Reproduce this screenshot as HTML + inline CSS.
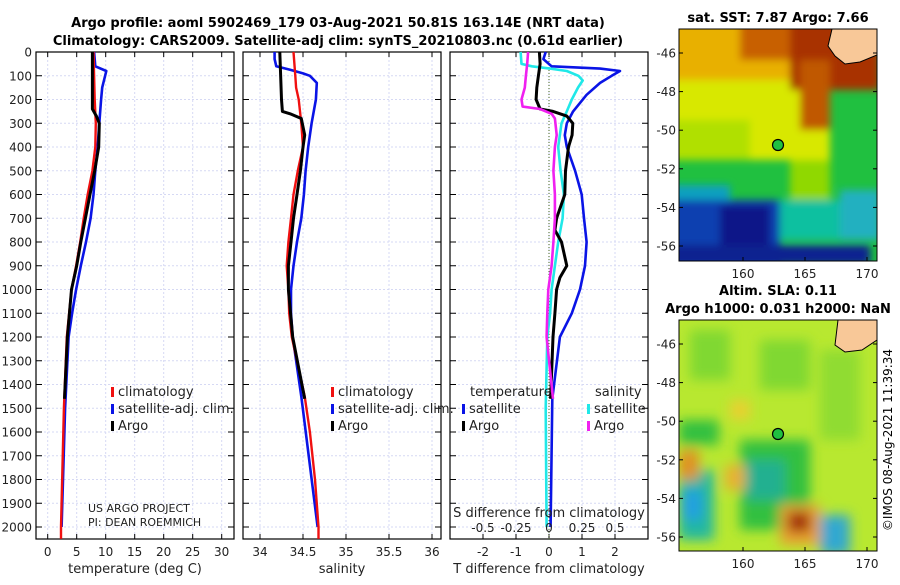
<!DOCTYPE html>
<html><head><meta charset="utf-8">
<style>
body{margin:0;background:#fff;}
svg text{font-family:"DejaVu Sans","Liberation Sans",sans-serif;}
</style></head>
<body>
<svg id="fig" xmlns="http://www.w3.org/2000/svg" width="900" height="580" viewBox="0 0 900 580">
<defs>
<filter id="blur1" x="-20%" y="-20%" width="140%" height="140%"><feGaussianBlur stdDeviation="4"/></filter>
<filter id="blur2" x="-20%" y="-20%" width="140%" height="140%"><feGaussianBlur stdDeviation="6"/></filter>
<clipPath id="clipTop"><rect x="679" y="29" width="198" height="232"/></clipPath>
<clipPath id="clipBot"><rect x="679" y="320" width="198" height="231"/></clipPath>
</defs>
<text x="338" y="27" font-size="13" font-weight="bold" text-anchor="middle">Argo profile: aoml 5902469_179 03-Aug-2021 50.81S 163.14E (NRT data)</text>
<text x="338" y="45" font-size="13" font-weight="bold" text-anchor="middle">Climatology: CARS2009. Satellite-adj clim: synTS_20210803.nc (0.61d earlier)</text>

<!-- top map -->
<g clip-path="url(#clipTop)">
<rect x="679" y="29" width="198" height="232" fill="#20c040"/>
<g filter="url(#blur1)">
<rect x="670" y="20" width="160" height="140" fill="#d8e800"/>
<rect x="670" y="20" width="150" height="60" fill="#e8b000"/>
<rect x="740" y="20" width="140" height="40" fill="#c86000"/>
<rect x="790" y="20" width="90" height="70" fill="#a83000"/>
<rect x="800" y="60" width="30" height="70" fill="#c05800"/>
<rect x="670" y="120" width="80" height="40" fill="#b0e000"/>
<rect x="790" y="160" width="40" height="50" fill="#90d800"/>
<rect x="670" y="185" width="60" height="30" fill="#10a0c0"/>
<rect x="670" y="200" width="110" height="70" fill="#1040b0"/>
<rect x="720" y="205" width="50" height="60" fill="#081888"/>
<rect x="670" y="245" width="200" height="20" fill="#0a2090"/>
<rect x="780" y="200" width="60" height="40" fill="#10c0a0"/>
<rect x="840" y="190" width="40" height="50" fill="#20b0c0"/>
</g>
<path d="M832,29 L877,29 L877,55 L860,62 L845,64 L835,56 L828,46 Z" fill="#f8c898" stroke="#000" stroke-width="1"/>
<circle cx="778" cy="145" r="5.5" fill="#20c040" stroke="#000" stroke-width="1.2"/>
</g>
<rect x="679" y="29" width="198" height="232" fill="none" stroke="#000" stroke-width="1"/>
<text x="778" y="22" font-size="13" font-weight="bold" text-anchor="middle">sat. SST: 7.87 Argo: 7.66</text>

<!-- bottom map -->
<g clip-path="url(#clipBot)">
<rect x="679" y="320" width="198" height="231" fill="#b8e830"/>
<g filter="url(#blur2)">
<rect x="690" y="330" width="40" height="50" fill="#80d830"/>
<rect x="760" y="340" width="50" height="50" fill="#80d830"/>
<rect x="820" y="350" width="40" height="90" fill="#90dc30"/>
<rect x="679" y="420" width="40" height="25" fill="#30c040"/>
<rect x="740" y="440" width="70" height="90" fill="#30c040"/>
<rect x="745" y="460" width="40" height="40" fill="#20b090"/>
<rect x="679" y="470" width="35" height="70" fill="#20b8a0"/>
<rect x="682" y="490" width="20" height="30" fill="#20a0e0"/>
<rect x="679" y="450" width="20" height="30" fill="#e09020"/>
<rect x="725" y="465" width="20" height="25" fill="#e8b030"/>
<rect x="780" y="505" width="40" height="40" fill="#e8a030"/>
<rect x="788" y="512" width="22" height="20" fill="#a02800"/>
<rect x="820" y="515" width="30" height="40" fill="#30a8d0"/>
<rect x="730" y="400" width="20" height="20" fill="#e8d030"/>
</g>
<path d="M838,320 L877,320 L877,340 L862,350 L845,352 L835,345 Z" fill="#f8c898" stroke="#000" stroke-width="1"/>
<circle cx="778" cy="434" r="5.5" fill="#20c040" stroke="#000" stroke-width="1.2"/>
</g>
<rect x="679" y="320" width="198" height="231" fill="none" stroke="#000" stroke-width="1"/>
<text x="778" y="295" font-size="13" font-weight="bold" text-anchor="middle">Altim. SLA: 0.11</text>
<text x="778" y="313" font-size="13" font-weight="bold" text-anchor="middle">Argo h1000: 0.031 h2000: NaN</text>
<text transform="translate(892,440) rotate(-90)" font-size="12" text-anchor="middle">©IMOS 08-Aug-2021 11:39:34</text>

<g id="plots"></g>
</svg>
<script>
// ---- data ----
var depthClimT = [0,100,200,300,400,500,600,700,800,900,1000,1200,1500,2000,2050];
var tempClim =   [7.9,8.0,8.1,8.3,8.2,7.7,6.9,6.2,5.6,4.9,4.1,3.3,2.8,2.3,2.3];
var depthSatT = [0,60,80,150,200,300,400,500,600,700,800,900,1000,1100,1200,1500,2000];
var tempSat =   [8.0,8.2,10.1,9.4,9.2,8.9,8.6,8.2,7.9,7.4,6.6,5.7,4.9,4.2,3.6,3.0,2.4];
var depthArgoT = [0,100,200,240,270,300,400,500,600,700,800,900,1000,1200,1460];
var tempArgo =   [7.7,7.7,7.7,7.7,8.4,8.9,8.8,8.1,7.3,6.5,5.7,5.0,4.1,3.4,2.9];

var depthClimS = [0,100,150,200,300,400,500,600,700,800,900,1000,1100,1200,1450,1600,1800,2000,2050];
var salClim =    [34.39,34.41,34.42,34.45,34.48,34.50,34.44,34.39,34.36,34.33,34.31,34.33,34.34,34.37,34.52,34.58,34.64,34.68,34.68];
var depthSatS = [0,30,60,75,90,100,130,200,300,400,500,600,700,800,900,1000,1100,1200,1450,2000];
var salSat =    [34.17,34.17,34.19,34.35,34.50,34.58,34.66,34.65,34.60,34.56,34.53,34.51,34.48,34.43,34.39,34.36,34.36,34.38,34.48,34.67];
var depthArgoS = [0,200,250,260,280,350,400,500,600,700,800,900,1000,1200,1460];
var salArgo =    [34.23,34.25,34.26,34.35,34.48,34.52,34.50,34.47,34.43,34.39,34.36,34.33,34.33,34.38,34.52];

var depthDiffSatT = [0,30,60,70,80,100,130,180,250,300,350,400,500,600,700,800,900,1000,1100,1200,1460,2000];
var diffTSat =      [-0.1,-0.17,0.08,1.55,2.15,1.9,1.55,1.14,0.73,0.54,0.48,0.54,0.79,0.99,1.06,1.14,1.09,0.94,0.69,0.33,0.1,0.05];
var depthDiffArgoT = [0,50,100,150,200,240,250,270,300,350,400,500,600,700,750,800,900,950,1000,1100,1200,1460];
var diffTArgo =      [-0.29,-0.27,-0.32,-0.37,-0.39,-0.27,0.12,0.54,0.72,0.7,0.59,0.5,0.48,0.23,0.18,0.38,0.54,0.33,0.23,0.18,0.12,0.05];
var depthDiffSatS = [0,50,60,70,80,100,120,150,200,250,300,400,500,600,700,800,900,1000,1100,1200,1500,2000];
var diffSSat =      [-0.215,-0.208,-0.13,0.008,0.135,0.223,0.255,0.22,0.173,0.135,0.095,0.07,0.088,0.113,0.103,0.07,0.045,0.02,0.008,-0.013,-0.025,-0.018];
var depthDiffArgoS = [0,50,100,150,200,230,240,260,280,350,400,500,600,700,800,900,1000,1100,1200,1460];
var diffSArgo =      [-0.158,-0.165,-0.175,-0.183,-0.208,-0.2,-0.068,0.02,0.045,0.058,0.045,0.033,0.045,0.045,0.033,0.02,-0.005,-0.013,-0.018,0.03];

var depthTicks = [0,100,200,300,400,500,600,700,800,900,1000,1100,1200,1300,1400,1500,1600,1700,1800,1900,2000];
var tempTicks = [0,5,10,15,20,25,30];
var salTicks = [34,34.5,35,35.5,36];
var diffTTicks = [-2,-1,0,1,2];
var diffSTickLabels = ["-0.5","-0.25","0","0.25","0.5"];
var diffSTickVals = [-0.5,-0.25,0,0.25,0.5];

// ---- scales ----
var NS="http://www.w3.org/2000/svg";
var TOP=52, BOT=539;
function yD(d){return 52 + d*0.2375;}
function xT(t){return 47.7 + t*5.8;}
function xS(s){return 260 + (s-34)*86;}
function xDT(v){return 549 + v*33;}
function xDS(v){return 549 + v*132;}
var g=document.getElementById('plots');
function mk(tag,attrs,parent){var e=document.createElementNS(NS,tag);for(var k in attrs)e.setAttribute(k,attrs[k]);(parent||g).appendChild(e);return e;}
function txt(x,y,s,size,anchor,parent){var e=mk('text',{x:x,y:y,'font-size':size,'text-anchor':anchor||'middle',fill:'#222'},parent);e.textContent=s;return e;}

var panels=[
 {name:'temperature-panel',x0:36,x1:234,ticks:tempTicks,fx:xT,label:'temperature (deg C)'},
 {name:'salinity-panel',x0:243,x1:441,ticks:salTicks,fx:xS,label:'salinity'},
 {name:'difference-panel',x0:450,x1:648,ticks:diffTTicks,fx:xDT,label:'T difference from climatology'}
];
panels.forEach(function(p,pi){
 var pg=mk('g',{});
 
 
 depthTicks.forEach(function(d){
  var l=mk('line',{x1:p.x0,x2:p.x1,y1:yD(d),y2:yD(d),stroke:'#d6d9f4','stroke-width':1,'stroke-dasharray':'2,2'},pg);
  
  
  mk('line',{x1:p.x0,x2:p.x0+6,y1:yD(d),y2:yD(d),stroke:'#000','stroke-width':1},pg);
  mk('line',{x1:p.x1-6,x2:p.x1,y1:yD(d),y2:yD(d),stroke:'#000','stroke-width':1},pg);
 });
 p.ticks.forEach(function(t){
  var x=p.fx(t);
  var l=mk('line',{x1:x,x2:x,y1:TOP,y2:BOT,stroke:'#d6d9f4','stroke-width':1,'stroke-dasharray':'2,2'},pg);
  
  
  mk('line',{x1:x,x2:x,y1:BOT-5,y2:BOT,stroke:'#000','stroke-width':1},pg);
  mk('line',{x1:x,x2:x,y1:TOP,y2:TOP+5,stroke:'#000','stroke-width':1},pg);
  var tl=txt(x,BOT+17,String(t),12,'middle',pg);
  
  
 });
 var xl=txt((p.x0+p.x1)/2,BOT+34,p.label,13,'middle',pg);
 
 
 var fr=mk('rect',{x:p.x0,y:TOP,width:p.x1-p.x0,height:BOT-TOP,fill:'none',stroke:'#000','stroke-width':1.2},pg);
 
 
});
depthTicks.forEach(function(d){
 var t=txt(32,yD(d)+4.5,String(d),12,'end');
 
 
});
var z=mk('line',{x1:549,x2:549,y1:TOP,y2:BOT,stroke:'#446622','stroke-width':1,'stroke-dasharray':'1,2'});



function line(ds,vs,fx,color,w,name){
 var pts=ds.map(function(d,i){return fx(vs[i]).toFixed(1)+','+yD(d).toFixed(1);}).join(' ');
 var e=mk('polyline',{points:pts,fill:'none',stroke:color,'stroke-width':w,'stroke-linejoin':'round'});
 
 
}
line(depthSatT,tempSat,xT,'#0a14e6',2.6,'temp-satellite-line');
line(depthClimT,tempClim,xT,'#f01010',2.4,'temp-climatology-line');
line(depthArgoT,tempArgo,xT,'#000',3,'temp-argo-line');
line(depthSatS,salSat,xS,'#0a14e6',2.6,'sal-satellite-line');
line(depthClimS,salClim,xS,'#f01010',2.4,'sal-climatology-line');
line(depthArgoS,salArgo,xS,'#000',3,'sal-argo-line');
line(depthDiffSatT,diffTSat,xDT,'#0a14e6',2.6,'tdiff-satellite-line');
line(depthDiffSatS,diffSSat,xDS,'#20e8e8',2.6,'sdiff-satellite-line');
line(depthDiffArgoT,diffTArgo,xDT,'#000',3,'tdiff-argo-line');
line(depthDiffArgoS,diffSArgo,xDS,'#f020f0',2.6,'sdiff-argo-line');

diffSTickVals.forEach(function(v,i){
 var t=txt(xDS(v),532,diffSTickLabels[i],12,'middle');
 
 
});
var st=txt(549,517,'S difference from climatology',13,'middle');



function legend(x,y,color,label,name){
 var r=mk('rect',{x:x,y:y-9,width:3,height:10,fill:color});
 
 
 var t=txt(x+7,y,label,13,'start');
 
 
}
legend(111,396,'#f01010','climatology','legend-climatology');
legend(111,413,'#0a14e6','satellite-adj. clim.','legend-satellite');
legend(111,430,'#000','Argo','legend-argo');
legend(331,396,'#f01010','climatology','legend-sal-climatology');
legend(331,413,'#0a14e6','satellite-adj. clim.','legend-sal-satellite');
legend(331,430,'#000','Argo','legend-sal-argo');
var lt=txt(470,396,'temperature',13,'start');


var ls=txt(595,396,'salinity',13,'start');


legend(462,413,'#0a14e6','satellite','legend-tdiff-satellite');
legend(462,430,'#000','Argo','legend-tdiff-argo');
legend(587,413,'#20e8e8','satellite','legend-sdiff-satellite');
legend(587,430,'#f020f0','Argo','legend-sdiff-argo');

var c1=txt(88,512,'US ARGO PROJECT',11,'start');


var c2=txt(88,526,'PI: DEAN ROEMMICH',11,'start');



var mapLats=[-46,-48,-50,-52,-54,-56];
var mapLons=[160,165,170];
function latY(lat,top){return top + 24 + (-46-lat)*19.3;}
function lonX(lon){return 743 + (lon-160)*12.4;}
[[29,261],[320,551]].forEach(function(m,mi){
 mapLats.forEach(function(lat){
  var y=latY(lat,m[0]);
  mk('line',{x1:679,x2:683,y1:y,y2:y,stroke:'#000'});
  mk('line',{x1:873,x2:877,y1:y,y2:y,stroke:'#000'});
  var t=txt(676,y+4.5,String(lat),12,'end');
  
  
 });
 mapLons.forEach(function(lon){
  var x=lonX(lon);
  mk('line',{x1:x,x2:x,y1:m[1]-4,y2:m[1],stroke:'#000'});
  var t=txt(x,m[1]+17,String(lon),12,'middle');
  
  
 });
});
</script>
</body></html>
